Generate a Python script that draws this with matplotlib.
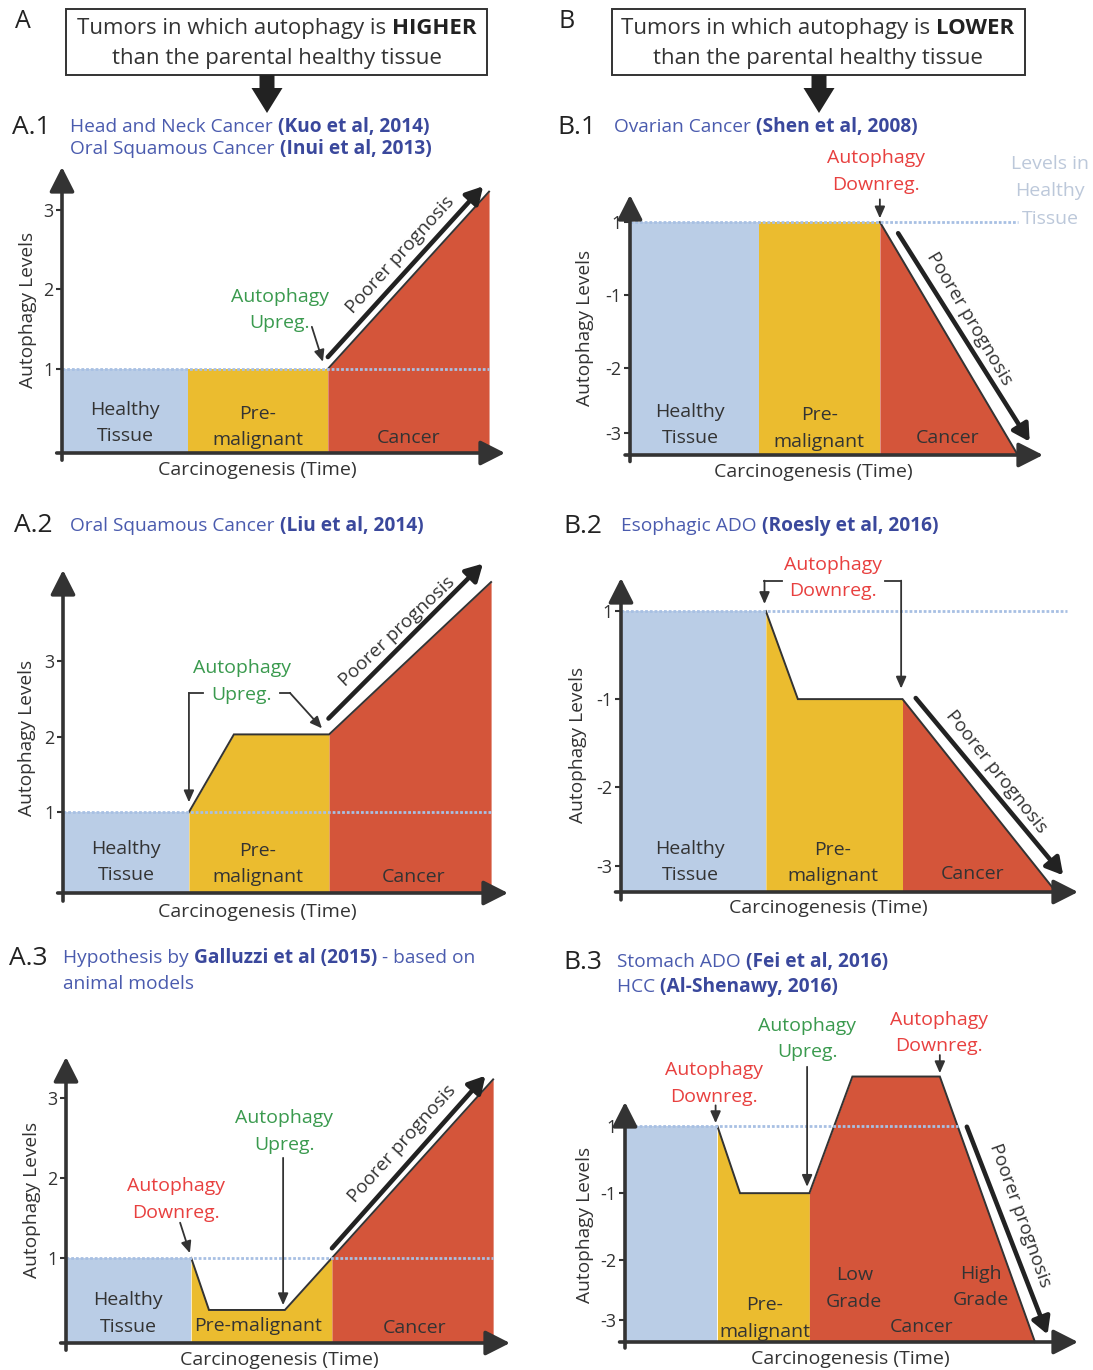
#!/usr/bin/env python3

# schematic: autophagy levels along carcinogenesis, tumours where autophagy is higher (A) or lower (B)

import matplotlib
matplotlib.use("Agg")
import matplotlib.pyplot as plt
import numpy as np
from matplotlib.patches import FancyArrow, Rectangle
from matplotlib.transforms import offset_copy

plt.rcParams["font.family"] = ["Open Sans", "DejaVu Sans"]

W, H = 1093, 1370

color_healthy = "#bacde6"
color_pre = "#ebbc2f"
color_cancer = "#d4553a"
color_dark = "#333333"
color_dots = "#a8c0e3"
color_faint = "#bcc8da"
color_blue = "#4a5bae"
color_blue_bold = "#3a489c"
color_green = "#3a9a4e"
color_red = "#e8403f"
stage_colors = [color_healthy, color_pre, color_cancer]

# ---- data: autophagy level profile over carcinogenesis time (0..10) ----
a1_time = [0, 2.85, 6.0, 9.64]
a1_level = [1, 1, 1, 3.23]
a1_stages = [0, 2.85, 6.0, 9.64]

a2_time = [0, 2.83, 3.84, 5.98, 9.62]
a2_level = [1, 1, 2.03, 2.03, 4.05]
a2_stages = [0, 2.83, 5.98, 9.62]

a3_time = [0, 2.82, 3.22, 4.93, 5.99, 9.62]
a3_level = [1, 1, 0.35, 0.35, 1, 3.23]
a3_stages = [0, 2.82, 5.99, 9.62]

b1_time = [0, 6.05, 9.39]
b1_level = [0, 0, -3.19]
b1_stages = [0, 3.12, 6.05, 9.39]

b2_time = [0, 3.17, 3.87, 6.16, 9.52]
b2_level = [0, 0, -1, -1, -3.19]
b2_stages = [0, 3.17, 6.16, 9.52]

b3_time = [0, 2.04, 2.54, 4.07, 5.02, 6.95, 9.05]
b3_level = [0, 0, -1, -1, 0.74, 0.74, -3.22]
b3_stages = [0, 2.04, 4.07, 9.05]

# tick positions and labels
a_ticks = [1, 2, 3]
a_tick_labels = ["1", "2", "3"]
b_ticks = [0, -1, -2, -2.89]
b_tick_labels = ["1", "-1", "-2", "-3"]

# texts
stage_labels = ["Healthy\nTissue", "Pre-\nmalignant", "Cancer"]
a3_stage_labels = ["Healthy\nTissue", "Pre-malignant", "Cancer"]
b3_stage_labels = ["Pre-\nmalignant", "Low\nGrade", "High\nGrade", "Cancer"]
up_text = "Autophagy\nUpreg."
down_text = "Autophagy\nDownreg."
healthy_levels_text = "Levels in\nHealthy\nTissue"
xlabel = "Carcinogenesis (Time)"
ylabel = "Autophagy Levels"
prognosis_text = "Poorer prognosis"

box_a = [("Tumors in which autophagy is ", "normal"), ("HIGHER", "bold")]
box_b = [("Tumors in which autophagy is ", "normal"), ("LOWER", "bold")]
box_line2 = [("than the parental healthy tissue", "normal")]

head_a1 = [[("Head and Neck Cancer ", "normal"), ("(Kuo et al, 2014)", "bold")],
           [("Oral Squamous Cancer ", "normal"), ("(Inui et al, 2013)", "bold")]]
head_a2 = [[("Oral Squamous Cancer ", "normal"), ("(Liu et al, 2014)", "bold")]]
head_a3 = [[("Hypothesis by ", "normal"), ("Galluzzi et al (2015)", "bold"), (" - based on", "normal")],
           [("animal models", "normal")]]
head_b1 = [[("Ovarian Cancer ", "normal"), ("(Shen et al, 2008)", "bold")]]
head_b2 = [[("Esophagic ADO ", "normal"), ("(Roesly et al, 2016)", "bold")]]
head_b3 = [[("Stomach ADO ", "normal"), ("(Fei et al, 2016)", "bold")],
           [("HCC ", "normal"), ("(Al-Shenawy, 2016)", "bold")]]

FS = 14  # body text size
LS = 1.62  # line spacing of two-line labels

fig = plt.figure(figsize=(W / 100, H / 100), dpi=100)
ax0 = fig.add_axes([0, 0, 1, 1])
ax0.set_xlim(0, W)
ax0.set_ylim(H, 0)
ax0.axis("off")
renderer = fig.canvas.get_renderer()


def text_width(s, **kw):
    """Advance width of a string in pixels (keeps trailing spaces)."""
    t1 = ax0.text(0, 0, s + "|", **kw)
    t2 = ax0.text(0, 0, "|", **kw)
    w = t1.get_window_extent(renderer).width - t2.get_window_extent(renderer).width
    t1.remove()
    t2.remove()
    return w


def rich_line(x, y, parts, size, colors, center=False):
    """Draw a line made of regular/bold pieces, y is the visual centre."""
    kws = [dict(fontsize=size, fontweight=w, color=colors[w]) for _, w in parts]
    widths = [text_width(s, **kw) for (s, _), kw in zip(parts, kws)]
    if center:
        x = x - sum(widths) / 2
    base = y + 0.26 * size * 100 / 72
    for (s, _), kw, w in zip(parts, kws, widths):
        ax0.text(x, base, s, ha="left", va="baseline", **kw)
        x += w


def make_panel(left, bottom, right, top, ylim):
    ax = fig.add_axes([left / W, 1 - bottom / H, (right - left) / W, (bottom - top) / H])
    ax.set_xlim(0, 10)
    ax.set_ylim(*ylim)
    ax.set_facecolor("none")
    for s in ax.spines.values():
        s.set_visible(False)
    ax.set_xticks([])
    return ax


def draw_profile(ax, time, level, stages, base, dots_end):
    floor = ax.get_ylim()[0]
    t = np.asarray(time, float)
    y = np.asarray(level, float)
    for t0, t1, c in zip(stages[:-1], stages[1:], stage_colors):
        xs = np.concatenate([[t0], t[(t > t0) & (t < t1)], [t1]])
        ax.fill_between(xs, floor, np.interp(xs, t, y), color=c, lw=0, zorder=1, clip_on=False)
    i0 = next(i for i in range(len(y) - 1) if y[i + 1] != y[i])
    ax.plot(t[i0:], y[i0:], color=color_dark, lw=1.4, zorder=3, solid_joinstyle="miter",
            clip_on=False)
    ax.plot([0, dots_end], [base, base], color=color_dots, lw=2, ls=(0, (1, 0.7)), zorder=4,
            clip_on=False)


def draw_axes(ax, ticks, tick_labels, ylab, xlab):
    kw = dict(arrowstyle="-|>,head_length=0.75,head_width=0.38", color=color_dark, lw=2.6,
              mutation_scale=20, shrinkA=0, shrinkB=0)
    ax.annotate("", xy=(1, 0), xytext=(-0.012, 0), xycoords="axes fraction", arrowprops=kw,
                annotation_clip=False, zorder=6)
    ax.annotate("", xy=(0, 1), xytext=(0, -0.025), xycoords="axes fraction", arrowprops=kw,
                annotation_clip=False, zorder=6)
    ax.set_yticks(ticks, tick_labels)
    ax.tick_params(axis="y", length=4.5, width=1.5, color=color_dark, labelsize=13,
                   labelcolor=color_dark, pad=1.5)
    off, frac = ylab
    ax.annotate(ylabel, xy=(0, frac), xycoords="axes fraction", xytext=(-off * 0.72, 0),
                textcoords="offset points", rotation=90, ha="center", va="center",
                fontsize=13.8, color=color_dark)
    frac, off = xlab
    ax.annotate(xlabel, xy=(frac, 0), xycoords="axes fraction", xytext=(0, -off * 0.72),
                textcoords="offset points", ha="center", va="center", fontsize=FS,
                color=color_dark)


def stage_texts(ax, labels, positions):
    for s, (x, y) in zip(labels, positions):
        ax.text(x, y, s, ha="center", va="center", fontsize=FS, color=color_dark,
                linespacing=LS, zorder=5)


def note(ax, s, color, pos, *pointers):
    ax.text(pos[0], pos[1], s, ha="center", va="center", fontsize=FS, color=color,
            linespacing=LS, zorder=5)
    for pts in pointers:
        if len(pts) > 2:
            xs, ys = zip(*pts[:-1])
            ax.plot(xs, ys, color=color_dark, lw=1.3, zorder=5, clip_on=False)
        ax.annotate("", xy=pts[-1], xytext=pts[-2],
                    arrowprops=dict(arrowstyle="-|>,head_length=0.5,head_width=0.22",
                                    color=color_dark, lw=1.3, mutation_scale=14,
                                    shrinkA=0, shrinkB=0),
                    annotation_clip=False, zorder=5)


def prognosis(ax, time, level, s0, off0, s1, off1, ts, toff):
    """Thick arrow + label parallel to the last segment of the profile."""
    p0 = np.array([time[-2], level[-2]], float)
    p1 = np.array([time[-1], level[-1]], float)
    d = ax.transData.transform(p1) - ax.transData.transform(p0)
    u = d / np.hypot(*d)
    n = np.array([-u[1], u[0]])
    tr0 = offset_copy(ax.transData, fig=fig, x=n[0] * off0, y=n[1] * off0, units="dots")
    tr1 = offset_copy(ax.transData, fig=fig, x=n[0] * off1, y=n[1] * off1, units="dots")
    ax.annotate("", xy=p0 + s1 * (p1 - p0), xycoords=tr1, xytext=p0 + s0 * (p1 - p0),
                textcoords=tr0, annotation_clip=False, zorder=6,
                arrowprops=dict(arrowstyle="-|>,head_length=0.5,head_width=0.28",
                                color="#222222", lw=3.3, mutation_scale=20,
                                shrinkA=0, shrinkB=0))
    trt = offset_copy(ax.transData, fig=fig, x=n[0] * toff, y=n[1] * toff, units="dots")
    ang = np.degrees(np.arctan2(d[1], d[0]))
    pt = p0 + ts * (p1 - p0)
    ax.text(pt[0], pt[1], prognosis_text, transform=trt, rotation=ang, rotation_mode="anchor",
            ha="center", va="center", fontsize=13.6, color=color_dark, zorder=6)


# ---- headers ----
dark_colors = {"normal": color_dark, "bold": "#222222"}
blue_colors = {"normal": color_blue, "bold": color_blue_bold}

ax0.text(23, 21, "A", fontsize=18, ha="center", va="center", color="#222222")
ax0.text(567, 21, "B", fontsize=18, ha="center", va="center", color="#222222")
for x0, x1, cx, ax_x, parts in [(66, 487, 277, 267, box_a), (612, 1025, 818, 819, box_b)]:
    ax0.add_patch(Rectangle((x0, 9), x1 - x0, 66, fill=False, lw=1.4, ec=color_dark))
    rich_line(cx, 28, parts, 16, dark_colors, center=True)
    rich_line(cx, 58, box_line2, 16, dark_colors, center=True)
    ax0.add_patch(FancyArrow(ax_x, 75, 0, 38, width=15, head_width=31, head_length=25,
                             length_includes_head=True, color="#222222", lw=0))

for lab, (lx, ly), tx, lines in [
    ("A.1", (31, 127), 70, [(127, head_a1[0]), (149, head_a1[1])]),
    ("A.2", (33, 525), 70, [(526, head_a2[0])]),
    ("A.3", (28, 958), 63, [(958, head_a3[0]), (984, head_a3[1])]),
    ("B.1", (577, 127), 614, [(127, head_b1[0])]),
    ("B.2", (583, 526), 621, [(526, head_b2[0])]),
    ("B.3", (583, 962), 617, [(962, head_b3[0]), (987, head_b3[1])]),
]:
    ax0.text(lx, ly, lab, fontsize=19, ha="center", va="center", color="#222222")
    for y, parts in lines:
        rich_line(tx, y, parts, 13.8, blue_colors)

# ---- A.1 ----
ax = make_panel(62, 453, 505, 167, (-0.057, 3.54))
draw_profile(ax, a1_time, a1_level, a1_stages, 1, 9.64)
draw_axes(ax, a_ticks, a_tick_labels, (34, 0.5), (0.442, 17))
stage_texts(ax, stage_labels, [(1.42, 0.32), (4.42, 0.27), (7.82, 0.13)])
note(ax, up_text, color_green, (4.92, 1.74), [(5.64, 1.53), (5.89, 1.09)])
prognosis(ax, a1_time, a1_level, 0.037, 8, 1.0, 8, 0.555, 23.4)

# ---- A.2 ----
ax = make_panel(63, 893, 508, 570, (-0.073, 4.21))
draw_profile(ax, a2_time, a2_level, a2_stages, 1, 9.62)
draw_axes(ax, a_ticks, a_tick_labels, (36, 0.48), (0.436, 18.7))
stage_texts(ax, stage_labels, [(1.42, 0.34), (4.38, 0.31), (7.87, 0.14)])
note(ax, up_text, color_green, (4.02, 2.73),
     [(3.15, 2.58), (2.83, 2.58), (2.83, 1.13)],
     [(4.88, 2.58), (5.10, 2.58), (5.82, 2.11)])
prognosis(ax, a2_time, a2_level, 0.047, 12, 1.03, 19, 0.54, 28)

# ---- A.3 ----
ax = make_panel(66, 1343, 510, 1057, (-0.0625, 3.51))
draw_profile(ax, a3_time, a3_level, a3_stages, 1, 9.62)
draw_axes(ax, a_ticks, a_tick_labels, (34, 0.5), (0.48, 17))
stage_texts(ax, a3_stage_labels, [(1.40, 0.31), (4.32, 0.15), (7.86, 0.125)])
note(ax, down_text, color_red, (2.48, 1.73), [(2.57, 1.44), (2.79, 1.06)])
note(ax, up_text, color_green, (4.91, 2.58), [(4.89, 2.25), (4.89, 0.41)])
prognosis(ax, a3_time, a3_level, 0.03, 6.5, 0.99, 8.2, 0.55, 24.7)

# ---- B.1 ----
ax = make_panel(630, 455, 1043, 195, (-3.19, 0.37))
draw_profile(ax, b1_time, b1_level, b1_stages, 0, 9.39)
draw_axes(ax, b_ticks, b_tick_labels, (45, 0.488), (0.443, 17))
stage_texts(ax, stage_labels, [(1.45, -2.78), (4.58, -2.83), (7.68, -2.96)])
note(ax, down_text, color_red, (5.96, 0.69), [(6.05, 0.31), (6.05, 0.05)])
ax.text(10.17, 0.42, healthy_levels_text, ha="center", va="center", fontsize=FS,
        color=color_faint, linespacing=1.7)
prognosis(ax, b1_time, b1_level, 0.07, 10, 0.98, 17, 0.475, 28.4)

# ---- B.2 ----
ax = make_panel(621, 892, 1078, 578, (-3.19, 0.375))
draw_profile(ax, b2_time, b2_level, b2_stages, 0, 9.76)
draw_axes(ax, b_ticks, b_tick_labels, (43, 0.468), (0.453, 16))
stage_texts(ax, stage_labels, [(1.51, -2.85), (4.64, -2.86), (7.70, -2.98)])
note(ax, down_text, color_red, (4.64, 0.375),
     [(3.52, 0.345), (3.14, 0.345), (3.14, 0.08)],
     [(5.78, 0.345), (6.13, 0.345), (6.13, -0.88)])
prognosis(ax, b2_time, b2_level, 0.03, 11, 0.965, 16, 0.466, 27.9)

# ---- B.3 ----
ax = make_panel(625, 1342, 1078, 1102, (-3.22, 0.36))
draw_profile(ax, b3_time, b3_level, b3_stages, 0, 7.35)
draw_axes(ax, b_ticks, b_tick_labels, (40, 0.4875), (0.497, 17))
stage_texts(ax, b3_stage_labels, [(3.08, -2.87), (5.06, -2.42), (7.86, -2.40), (6.55, -2.99)])
note(ax, down_text, color_red, (1.96, 0.64), [(2.0, 0.31), (2.0, 0.045)])
note(ax, up_text, color_green, (4.02, 1.30), [(4.02, 0.885), (4.02, -0.905)])
note(ax, down_text, color_red, (6.93, 1.39), [(6.95, 1.06), (6.95, 0.79)])
prognosis(ax, b3_time, b3_level, 0.2, 8.5, 0.99, 14.4, 0.558, 28.6)

fig.savefig("out.png", dpi=100)
